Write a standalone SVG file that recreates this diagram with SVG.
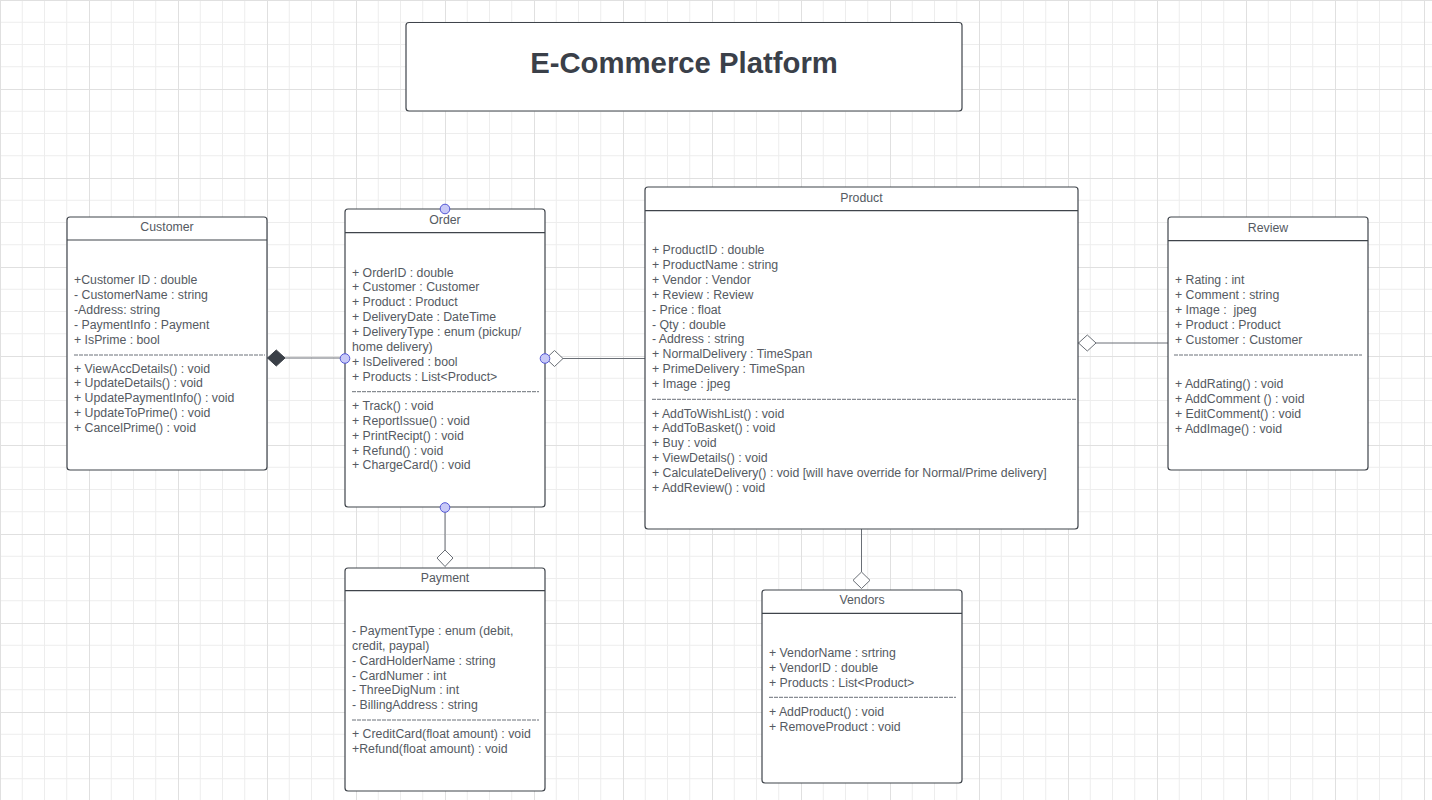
<svg xmlns="http://www.w3.org/2000/svg" width="1432" height="800" viewBox="0 0 1432 800">
<defs>
<pattern id="grid" x="0" y="0" width="89" height="89" patternUnits="userSpaceOnUse">
<path d="M22.25 0V89M44.5 0V89M66.75 0V89M0 22.25H89M0 44.5H89M0 66.75H89" stroke="#ededed" stroke-width="1" fill="none"/>
<path d="M0.5 0V89M0 0.5H89" stroke="#e0e0e0" stroke-width="1" fill="none"/>
</pattern>
</defs>
<style>
.box{fill:#fff;stroke:#3f444b;stroke-width:1.2}
.hd{stroke:#3f444b;stroke-width:1.2}
.sep{stroke:#6b7078;stroke-width:1;stroke-dasharray:4 1}
.t{font-family:"Liberation Sans",Arial,sans-serif;font-size:12.3px;fill:#555a62}
.ttl{font-family:"Liberation Sans",Arial,sans-serif;font-size:12.3px;fill:#555a62;text-anchor:middle}
.big{font-family:"Liberation Sans",Arial,sans-serif;font-size:29.3px;font-weight:bold;fill:#3a4049;text-anchor:middle}
.conn{stroke:#6a6f76;stroke-width:1;fill:none}
.dot{fill:#c8c9f7;stroke:#5558d6;stroke-width:1}
.hollow{fill:#fff;stroke:#6a6f76;stroke-width:1}
.filled{fill:#3a3f47;stroke:#3a3f47;stroke-width:1}
</style>
<rect width="1432" height="800" fill="#fff"/>
<rect width="1432" height="800" fill="url(#grid)"/>

<g id="title">
<rect class="box" x="406" y="22.5" width="556" height="88.5" rx="3"/>
<text class="big" x="684" y="72.5">E-Commerce Platform</text>
</g>

<g id="connectors">
<line class="conn" x1="267" y1="358" x2="345" y2="358"/>
<path class="filled" d="M267.5 358L276.3 350L285 358L276.3 366Z"/>
<line class="conn" x1="545" y1="358.5" x2="645" y2="358.5"/>
<path class="hollow" d="M546 358.5L554.5 350.5L563 358.5L554.5 366.5Z"/>
<line class="conn" x1="1078" y1="343" x2="1168" y2="343"/>
<path class="hollow" d="M1078.5 343L1087.3 335L1096 343L1087.3 351Z"/>
<line class="conn" x1="445" y1="507" x2="445" y2="550" stroke="#9a9ea4"/>
<path class="hollow" d="M445 550L453 558L445 566.5L437 558Z"/>
<line class="conn" x1="861.5" y1="529" x2="861.5" y2="572"/>
<path class="hollow" d="M861.5 572L870 580.3L861.5 588.5L853 580.3Z"/>
</g>

<g id="customer">
<rect class="box" x="67" y="217" width="200" height="253" rx="3"/>
<line class="hd" x1="67" y1="240" x2="267" y2="240"/>
<text class="ttl" x="167" y="231.3">Customer</text>
<text class="t" x="74" y="284.3">
<tspan x="74">+Customer ID : double</tspan>
<tspan x="74" dy="14.85">- CustomerName : string</tspan>
<tspan x="74" dy="14.85">-Address: string</tspan>
<tspan x="74" dy="14.85">- PaymentInfo : Payment</tspan>
<tspan x="74" dy="14.85">+ IsPrime : bool</tspan>
</text>
<line class="sep" x1="74" y1="355" x2="265" y2="355"/>
<text class="t" x="74" y="372.6">
<tspan x="74">+ ViewAccDetails() : void</tspan>
<tspan x="74" dy="14.85">+ UpdateDetails() : void</tspan>
<tspan x="74" dy="14.85">+ UpdatePaymentInfo() : void</tspan>
<tspan x="74" dy="14.85">+ UpdateToPrime() : void</tspan>
<tspan x="74" dy="14.85">+ CancelPrime() : void</tspan>
</text>
</g>

<g id="order">
<rect class="box" x="345" y="209" width="200" height="298" rx="3"/>
<line class="hd" x1="345" y1="232.7" x2="545" y2="232.7"/>
<text class="ttl" x="445" y="223.6">Order</text>
<text class="t" x="352" y="276.6">
<tspan x="352">+ OrderID : double</tspan>
<tspan x="352" dy="14.85">+ Customer : Customer</tspan>
<tspan x="352" dy="14.85">+ Product : Product</tspan>
<tspan x="352" dy="14.85">+ DeliveryDate : DateTime</tspan>
<tspan x="352" dy="14.85">+ DeliveryType : enum (pickup/</tspan>
<tspan x="352" dy="14.85">home delivery)</tspan>
<tspan x="352" dy="14.85">+ IsDelivered : bool</tspan>
<tspan x="352" dy="14.85">+ Products : List&lt;Product&gt;</tspan>
</text>
<line class="sep" x1="352" y1="391.7" x2="539" y2="391.7"/>
<text class="t" x="352" y="410">
<tspan x="352">+ Track() : void</tspan>
<tspan x="352" dy="14.85">+ ReportIssue() : void</tspan>
<tspan x="352" dy="14.85">+ PrintRecipt() : void</tspan>
<tspan x="352" dy="14.85">+ Refund() : void</tspan>
<tspan x="352" dy="14.85">+ ChargeCard() : void</tspan>
</text>
<circle class="dot" cx="445" cy="209" r="4.8"/>
<circle class="dot" cx="345" cy="358.5" r="4.8"/>
<circle class="dot" cx="545" cy="358.5" r="4.8"/>
<circle class="dot" cx="445" cy="507.5" r="4.8"/>
</g>

<g id="product">
<rect class="box" x="645" y="187" width="433" height="342" rx="3"/>
<line class="hd" x1="645" y1="210.7" x2="1078" y2="210.7"/>
<text class="ttl" x="861.5" y="201.6">Product</text>
<text class="t" x="652" y="254.3">
<tspan x="652">+ ProductID : double</tspan>
<tspan x="652" dy="14.85">+ ProductName : string</tspan>
<tspan x="652" dy="14.85">+ Vendor : Vendor</tspan>
<tspan x="652" dy="14.85">+ Review : Review</tspan>
<tspan x="652" dy="14.85">- Price : float</tspan>
<tspan x="652" dy="14.85">- Qty : double</tspan>
<tspan x="652" dy="14.85">- Address : string</tspan>
<tspan x="652" dy="14.85">+ NormalDelivery : TimeSpan</tspan>
<tspan x="652" dy="14.85">+ PrimeDelivery : TimeSpan</tspan>
<tspan x="652" dy="14.85">+ Image : jpeg</tspan>
</text>
<line class="sep" x1="652" y1="399.3" x2="1076" y2="399.3" stroke="#8a8f96"/>
<text class="t" x="652" y="417.6">
<tspan x="652">+ AddToWishList() : void</tspan>
<tspan x="652" dy="14.85">+ AddToBasket() : void</tspan>
<tspan x="652" dy="14.85">+ Buy : void</tspan>
<tspan x="652" dy="14.85">+ ViewDetails() : void</tspan>
<tspan x="652" dy="14.85">+ CalculateDelivery() : void [will have override for Normal/Prime delivery]</tspan>
<tspan x="652" dy="14.85">+ AddReview() : void</tspan>
</text>
</g>

<g id="review">
<rect class="box" x="1168" y="217" width="200" height="253" rx="3"/>
<line class="hd" x1="1168" y1="240.7" x2="1368" y2="240.7"/>
<text class="ttl" x="1268" y="231.6">Review</text>
<text class="t" x="1175" y="284.3">
<tspan x="1175">+ Rating : int</tspan>
<tspan x="1175" dy="14.85">+ Comment : string</tspan>
<tspan x="1175" dy="14.85">+ Image : &#160;jpeg</tspan>
<tspan x="1175" dy="14.85">+ Product : Product</tspan>
<tspan x="1175" dy="14.85">+ Customer : Customer</tspan>
</text>
<line class="sep" x1="1174" y1="355" x2="1362" y2="355"/>
<text class="t" x="1175" y="388.3">
<tspan x="1175">+ AddRating() : void</tspan>
<tspan x="1175" dy="14.85">+ AddComment () : void</tspan>
<tspan x="1175" dy="14.85">+ EditComment() : void</tspan>
<tspan x="1175" dy="14.85">+ AddImage() : void</tspan>
</text>
</g>

<g id="payment">
<rect class="box" x="345" y="568" width="200" height="223" rx="3"/>
<line class="hd" x1="345" y1="590.7" x2="545" y2="590.7"/>
<text class="ttl" x="445" y="582">Payment</text>
<text class="t" x="352" y="635">
<tspan x="352">- PaymentType : enum (debit,</tspan>
<tspan x="352" dy="14.85">credit, paypal)</tspan>
<tspan x="352" dy="14.85">- CardHolderName : string</tspan>
<tspan x="352" dy="14.85">- CardNumer : int</tspan>
<tspan x="352" dy="14.85">- ThreeDigNum : int</tspan>
<tspan x="352" dy="14.85">- BillingAddress : string</tspan>
</text>
<line class="sep" x1="352" y1="720" x2="539" y2="720"/>
<text class="t" x="352" y="738.3">
<tspan x="352">+ CreditCard(float amount) : void</tspan>
<tspan x="352" dy="14.85">+Refund(float amount) : void</tspan>
</text>
</g>

<g id="vendors">
<rect class="box" x="762" y="590" width="200" height="193" rx="3"/>
<line class="hd" x1="762" y1="613.3" x2="962" y2="613.3"/>
<text class="ttl" x="862" y="604.3">Vendors</text>
<text class="t" x="769" y="657">
<tspan x="769">+ VendorName : srtring</tspan>
<tspan x="769" dy="14.85">+ VendorID : double</tspan>
<tspan x="769" dy="14.85">+ Products : List&lt;Product&gt;</tspan>
</text>
<line class="sep" x1="769" y1="697.3" x2="956" y2="697.3"/>
<text class="t" x="769" y="716.3">
<tspan x="769">+ AddProduct() : void</tspan>
<tspan x="769" dy="14.85">+ RemoveProduct : void</tspan>
</text>
</g>
</svg>
